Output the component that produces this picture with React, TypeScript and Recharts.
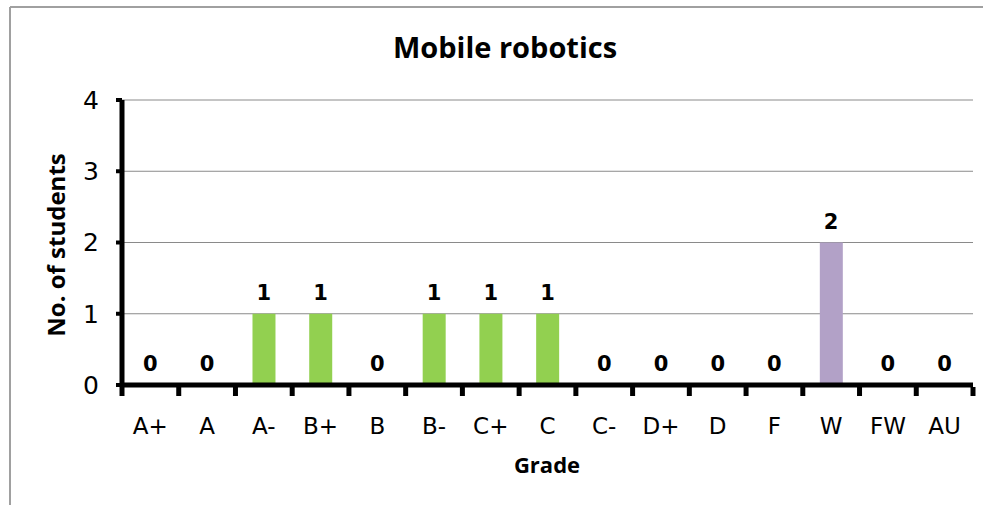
import React from 'react'
import { ComposedChart, Bar, Line, XAxis, YAxis, CartesianGrid, LabelList, Cell } from 'recharts'

// grade distribution
const grades = ['A+', 'A', 'A-', 'B+', 'B', 'B-', 'C+', 'C', 'C-', 'D+', 'D', 'F', 'W', 'FW', 'AU']
const students = [0, 0, 1, 1, 0, 1, 1, 1, 0, 0, 0, 0, 2, 0, 0]
const yTicks = [0, 1, 2, 3, 4]
const withdrawn = 'W'

const data = grades.map((grade, i) => ({ grade, students: students[i] }))

const W = 983
const H = 505
const margin = { top: 100, right: 10, bottom: 0, left: 62 }
const yAxisWidth = 60
const xAxisHeight = 120
const bandWidth = (W - margin.left - yAxisWidth - margin.right) / grades.length

const labelFont = 'DejaVu Sans, Liberation Sans, sans-serif'
const titleFont = 'Open Sans, Noto Sans, sans-serif'

// tick marks sit on the category boundaries, labels in the middle
const GradeTick = (props: any) => {
  const { x, y, payload, index } = props
  const left = x - bandWidth / 2
  return (
    <g>
      <line x1={left} y1={y} x2={left} y2={y + 9} stroke="#000" strokeWidth={5} />
      {index === grades.length - 1 && (
        <line x1={x + bandWidth / 2} y1={y} x2={x + bandWidth / 2} y2={y + 9} stroke="#000" strokeWidth={5} />
      )}
      <text x={x} y={y + 47} textAnchor="middle" fill="#000" fontSize={23} fontFamily={labelFont}>
        {payload.value}
      </text>
    </g>
  )
}

export default function App() {
  return (
    <div style={{ position: 'absolute', left: 0, top: 0, width: W, height: H, overflow: 'hidden', background: '#fff' }}>
      <div style={{ position: 'absolute', left: 0, top: 0 }}>
        <ComposedChart width={W} height={H} data={data} margin={margin} barCategoryGap="30%">
          <CartesianGrid vertical={false} stroke="#8a8a8a" strokeWidth={1} />
          <XAxis
            dataKey="grade"
            interval={0}
            height={xAxisHeight}
            axisLine={{ stroke: '#000', strokeWidth: 5 }}
            tickLine={false}
            tickSize={0}
            tick={<GradeTick />}
          />
          <YAxis
            domain={[0, 4]}
            ticks={yTicks}
            width={yAxisWidth}
            axisLine={{ stroke: '#000', strokeWidth: 5 }}
            tickLine={{ stroke: '#000', strokeWidth: 4 }}
            tickSize={6}
            tickMargin={17}
            tick={{ fill: '#000', fontSize: 25, fontFamily: labelFont }}
          />
          <Bar dataKey="students" isAnimationActive={false}>
            {data.map((d) => (
              <Cell key={d.grade} fill={d.grade === withdrawn ? '#B2A1C7' : '#92D050'} />
            ))}
          </Bar>
          {/* invisible series that carries the value labels, zeros included */}
          <Line dataKey="students" stroke="none" dot={false} activeDot={false} isAnimationActive={false}>
            <LabelList
              dataKey="students"
              position="top"
              offset={14}
              fill="#000"
              style={{ fontSize: 21, fontWeight: 'bold', fontFamily: labelFont }}
            />
          </Line>
        </ComposedChart>
      </div>

      {/* frame (runs off the right and bottom edges) and titles */}
      <svg width={W} height={H} style={{ position: 'absolute', left: 0, top: 0, pointerEvents: 'none' }}>
        <line x1={10} y1={7} x2={W} y2={7} stroke="#a0a0a0" strokeWidth={2} />
        <line x1={10} y1={7} x2={10} y2={H} stroke="#a0a0a0" strokeWidth={2} />
        <text x={505} y={58} textAnchor="middle" fontSize={29} fontWeight="bold" fontFamily={titleFont} fill="#000">
          Mobile robotics
        </text>
        <text
          x={65}
          y={245}
          transform="rotate(-90 65 245)"
          textAnchor="middle"
          fontSize={24}
          fontWeight="bold"
          fontFamily={titleFont}
          fill="#000"
        >
          No. of students
        </text>
        <text x={547} y={473} textAnchor="middle" fontSize={22} fontWeight="bold" fontFamily={titleFont} fill="#000">
          Grade
        </text>
      </svg>
    </div>
  )
}
